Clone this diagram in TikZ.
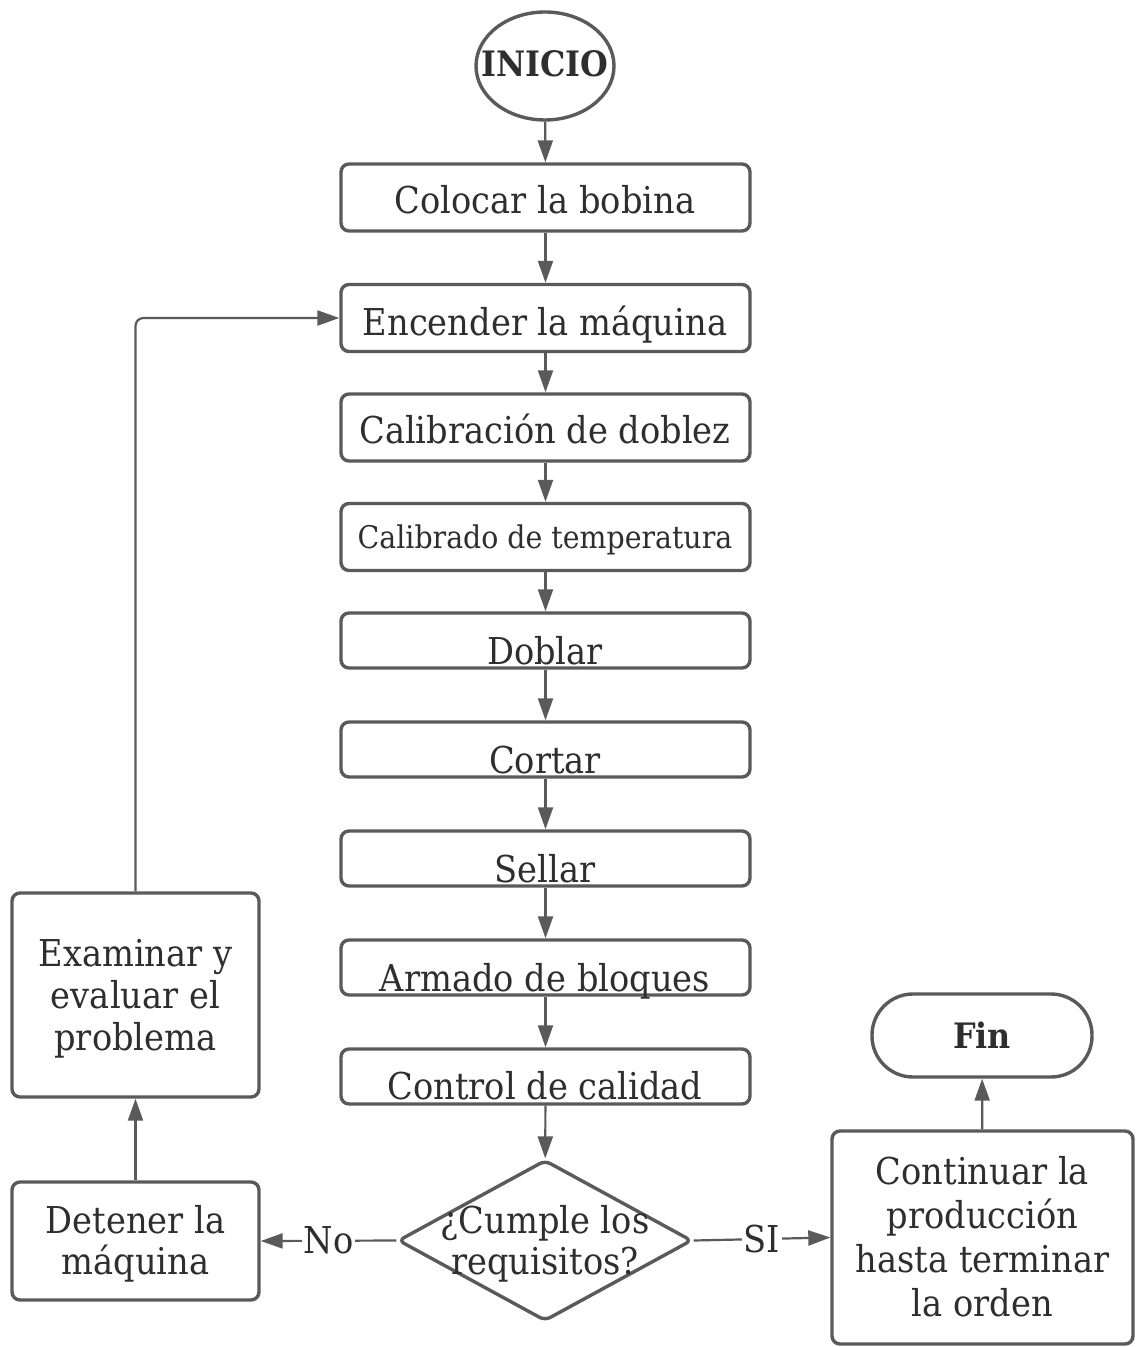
\documentclass[tikz,border=0pt]{standalone}
\usepackage{fontspec}
\setmainfont{DejaVu Serif}[FakeStretch=0.91]
\usetikzlibrary{shapes.geometric,arrows.meta}
\definecolor{linec}{HTML}{5A5A5A}
\definecolor{txtc}{HTML}{2E2E2E}
\begin{document}
\begin{tikzpicture}[x=0.5pt,y=-0.5pt,
  shapeline/.style={draw=linec, line width=1.7pt, fill=white, inner sep=0pt},
  stepbox/.style={shapeline, rounded corners=4pt, minimum width=204.5pt},
  tallbox/.style={stepbox, minimum height=33.5pt},
  flatbox/.style={stepbox, minimum height=27.5pt},
  sidebox/.style={shapeline, rounded corners=4pt},
  txt/.style={text=txtc, font=\fontsize{18.5}{21}\selectfont, inner sep=0pt, anchor=base, align=center},
  flow/.style={draw=linec, line width=1.1pt, -{Triangle[length=11pt,width=7.5pt]}},
  lbl/.style={text=txtc, font=\fontsize{18.5}{21}\selectfont, fill=white, inner sep=1pt}
]
\useasboundingbox (0,0) rectangle (1142,1347);

% start / end terminals
\node[shapeline, ellipse, minimum width=69pt, minimum height=54pt] (start) at (545,66) {};
\node[txt, font=\fontsize{17.5}{21}\selectfont\bfseries] (tstart) at (545,77) {INICIO};

% main column of process steps
\node[tallbox] (s1) at (545.5,197.5) {};
\node[tallbox] (s2) at (545.5,318) {};
\node[tallbox] (s3) at (545.5,427.5) {};
\node[tallbox] (s4) at (545.5,537) {};
\node[flatbox] (s5) at (545.5,640.5) {};
\node[flatbox] (s6) at (545.5,749.5) {};
\node[flatbox] (s7) at (545.5,858.5) {};
\node[flatbox] (s8) at (545.5,967.5) {};
\node[flatbox] (s9) at (545.5,1076.5) {};

\node[txt] (t1) at (545,214) {Colocar la bobina};
\node[txt] (t2) at (545,336) {Encender la máquina};
\node[txt] (t3) at (545,444) {Calibración de doblez};
\node[txt, font=\fontsize{15.6}{18}\selectfont] (t4) at (545,548) {Calibrado de temperatura};
\node[txt] (t5) at (545,664) {Doblar};
\node[txt] (t6) at (545,773) {Cortar};
\node[txt] (t7) at (545,882) {Sellar};
\node[txt] (t8) at (545,991) {Armado de bloques};
\node[txt] (t9) at (545,1099) {Control de calidad};

% decision
\node[shapeline, diamond, rounded corners=3pt, minimum width=147pt, minimum height=80.5pt] (dec) at (545,1240.5) {};
\node[txt] (td1) at (545,1233) {¿Cumple los};
\node[txt] (td2) at (545,1274) {requisitos?};

% rejection branch
\node[sidebox, minimum width=123.5pt, minimum height=59pt] (stop) at (135.5,1241) {};
\node[txt] (tstop1) at (135.5,1233) {Detener la};
\node[txt] (tstop2) at (135.5,1274) {máquina};

\node[sidebox, minimum width=123.5pt, minimum height=102pt] (exam) at (135.5,995) {};
\node[txt] (te1) at (135.5,966) {Examinar y};
\node[txt] (te2) at (135.5,1008) {evaluar el};
\node[txt] (te3) at (135.5,1050) {problema};

% acceptance branch
\node[sidebox, minimum width=150.5pt, minimum height=106.5pt] (cont) at (982.5,1237.5) {};
\node[txt] (tc1) at (982.5,1184) {Continuar la};
\node[txt] (tc2) at (982.5,1228) {producción};
\node[txt] (tc3) at (982.5,1272) {hasta terminar};
\node[txt] (tc4) at (982.5,1316) {la orden};

\node[shapeline, rounded corners=20.5pt, minimum width=110pt, minimum height=41.5pt] (fin) at (982,1035.5) {};
\node[txt, font=\fontsize{17.5}{21}\selectfont\bfseries] (tfin) at (982,1048) {Fin};

% connectors
\draw[flow] (start) -- (s1);
\draw[flow] (s1) -- (s2);
\draw[flow] (s2) -- (s3);
\draw[flow] (s3) -- (s4);
\draw[flow] (s4) -- (s5);
\draw[flow] (s5) -- (s6);
\draw[flow] (s6) -- (s7);
\draw[flow] (s7) -- (s8);
\draw[flow] (s8) -- (s9);
\draw[flow] (s9) -- (dec);
\draw[flow] (dec.west) -- node[lbl] (no) {No} (stop.east);
\draw[flow] (dec.east) -- node[lbl] (si) {SI} (cont.west);
\draw[flow] (stop) -- (exam);
\draw[flow] (cont) -- (fin);
\draw[flow, rounded corners=4pt] (exam.north) |- (s2.west);
\end{tikzpicture}
\end{document}
